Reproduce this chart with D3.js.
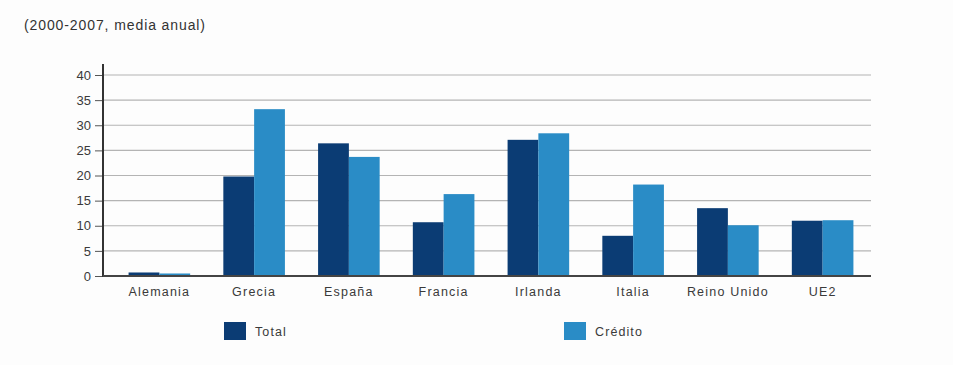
<!DOCTYPE html>
<html>
<head>
<meta charset="utf-8">
<script src="https://cdn.jsdelivr.net/npm/d3@7"></script>
<style>
  body { margin: 0; background: #fdfdfd; }
  text { font-family: "Liberation Sans", Arial, sans-serif; fill: #3a3a3a; }
</style>
</head>
<body>
<script>
// datos
let paises = ['Alemania', 'Grecia', 'España', 'Francia', 'Irlanda', 'Italia', 'Reino Unido', 'UE2'];
let total = [0.7, 19.8, 26.4, 10.7, 27.1, 8.0, 13.5, 11.0];
let credito = [0.5, 33.2, 23.7, 16.3, 28.4, 18.2, 10.1, 11.1];
let series = ['Total', 'Crédito'];
let ticksY = [0, 5, 10, 15, 20, 25, 30, 35, 40];

let colores = { 'Total': '#0b3c74', 'Crédito': '#2a8cc6' };

let width = 953, height = 365;
let svg = d3.select('body').append('svg').attr('width', width).attr('height', height);

svg.append('text')
  .attr('x', 24).attr('y', 30)
  .style('font-size', '14px')
  .style('letter-spacing', '0.9px')
  .style('fill', '#333')
  .text('(2000-2007, media anual)');

let x0 = 103, x1 = 871;
let y = d3.scaleLinear().domain([0, 40]).range([276, 75]);

let xBand = d3.scaleBand()
  .domain(paises)
  .range([112, 870])
  .paddingInner(0.35)
  .paddingOuter(0.175);

let xSub = d3.scaleBand()
  .domain(series)
  .range([0, xBand.bandwidth()]);

// lineas de la cuadricula
svg.append('g')
  .selectAll('line')
  .data(ticksY.filter(d => d > 0))
  .enter()
  .append('line')
  .attr('x1', x0).attr('x2', x1)
  .attr('y1', d => y(d)).attr('y2', d => y(d))
  .attr('stroke', '#b4b4b4')
  .attr('stroke-width', 1.2);

let rows = paises.map((p, i) => ({ pais: p, 'Total': total[i], 'Crédito': credito[i] }));

svg.append('g')
  .selectAll('g')
  .data(rows)
  .enter()
  .append('g')
  .attr('transform', d => `translate(${xBand(d.pais)},0)`)
  .selectAll('rect')
  .data(d => series.map(s => ({ s: s, v: d[s] })))
  .enter()
  .append('rect')
  .attr('x', d => xSub(d.s))
  .attr('y', d => y(d.v))
  .attr('width', xSub.bandwidth())
  .attr('height', d => y(0) - y(d.v))
  .attr('fill', d => colores[d.s]);

// eje y
let yAxis = svg.append('g')
  .attr('transform', `translate(${x0},0)`)
  .call(d3.axisLeft(y).tickValues(ticksY).tickSize(8).tickPadding(4).tickFormat(d3.format('d')));
yAxis.select('.domain').remove();
yAxis.selectAll('.tick line').attr('stroke', '#555');
yAxis.selectAll('.tick text').style('font-size', '13px').style('fill', '#3a3a3a').attr('font-family', null);

svg.append('line')
  .attr('x1', x0).attr('x2', x0)
  .attr('y1', 64).attr('y2', y(0) + 1)
  .attr('stroke', '#333').attr('stroke-width', 2);

svg.append('line')
  .attr('x1', x0).attr('x2', x1)
  .attr('y1', y(0)).attr('y2', y(0))
  .attr('stroke', '#444').attr('stroke-width', 2);

// etiquetas de paises
svg.append('g')
  .selectAll('text')
  .data(paises)
  .enter()
  .append('text')
  .attr('x', d => xBand(d) + xBand.bandwidth() / 2)
  .attr('y', 296)
  .attr('text-anchor', 'middle')
  .style('font-size', '12.5px')
  .style('letter-spacing', '1.2px')
  .text(d => d);

// leyenda
let legX = { 'Total': 224, 'Crédito': 564 };
let leg = svg.append('g')
  .selectAll('g')
  .data(series)
  .enter()
  .append('g')
  .attr('transform', d => `translate(${legX[d]},322)`);
leg.append('rect')
  .attr('width', 22).attr('height', 18)
  .attr('fill', d => colores[d]);
leg.append('text')
  .attr('x', 31).attr('y', 14)
  .style('font-size', '12.5px')
  .style('letter-spacing', '1.1px')
  .text(d => d);
</script>
</body>
</html>
